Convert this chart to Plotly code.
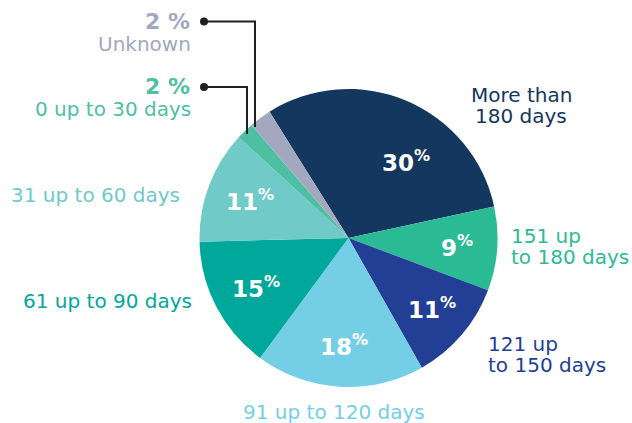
import math
import plotly.graph_objects as go

# ---------------- data ----------------
categories = ["More than 180 days", "151 up to 180 days", "121 up to 150 days",
              "91 up to 120 days", "61 up to 90 days", "31 up to 60 days",
              "0 up to 30 days", "Unknown"]
shares = [30.5, 9.1, 11.1, 18.3, 14.5, 12.2, 1.9, 2.4]          # slice sizes
pct_labels = ["30", "9", "11", "18", "15", "11", "2", "2"]      # printed percentages
slice_colors = ["#14375F", "#2BBB94", "#223F95", "#74CFE6",
                "#00A89B", "#6FCAC8", "#4DC0A4", "#A3A8BF"]

# ---------------- layout constants ----------------
W, H = 632, 423
CX, CY, R = 348.5, 238.0, 149.0
START = -32.0          # degrees clockwise from 12 o'clock
FONT = "DejaVu Sans"
LINE_COLOR = "#231F20"


def px(x, y):
    return x / W, 1 - y / H


fig = go.Figure(go.Pie(
    labels=categories, values=shares, sort=False, direction="clockwise",
    rotation=START, marker=dict(colors=slice_colors, line=dict(width=0)),
    textinfo="none", hoverinfo="label+percent", showlegend=False,
    domain=dict(x=[(CX - R) / W, (CX + R) / W],
                y=[(H - CY - R) / H, (H - CY + R) / H]),
))

annotations = []
shapes = []

# inside percentage labels, placed at each slice's mid-angle
nudge = {"More than 180 days": (13, 95)}   # (angle offset deg, radius px)
total = sum(shares)
acc = 0.0
mids = []
for cat, v in zip(categories, shares):
    a0 = START + 360 * acc / total
    acc += v
    a1 = START + 360 * acc / total
    mids.append((a0 + a1) / 2)

for cat, lab, mid in zip(categories, pct_labels, mids):
    if cat in ("0 up to 30 days", "Unknown"):
        continue
    da, rr = nudge.get(cat, (0, 107))
    ang = math.radians(mid + da)
    x = CX + rr * math.sin(ang)
    y = CY - rr * math.cos(ang)
    xp, yp = px(x + 2, y)
    annotations.append(dict(
        x=xp, y=yp, xref="paper", yref="paper", xanchor="center", yanchor="middle",
        showarrow=False,
        text=f"<b>{lab}<sup>%</sup></b>",
        font=dict(family=FONT, size=23, color="white")))

# outside category labels
color_of = dict(zip(categories, slice_colors))
outside = [
    ("More than", 521, 95, "center", "More than 180 days"),
    ("180 days", 521, 116, "center", "More than 180 days"),
    ("151 up", 510, 236, "left", "151 up to 180 days"),
    ("to 180 days", 510, 257, "left", "151 up to 180 days"),
    ("121 up", 487, 344, "left", "121 up to 150 days"),
    ("to 150 days", 487, 365, "left", "121 up to 150 days"),
    ("91 up to 120 days", 334, 412, "center", "91 up to 120 days"),
    ("61 up to 90 days", 193, 301, "right", "61 up to 90 days"),
    ("31 up to 60 days", 181, 195, "right", "31 up to 60 days"),
    ("Unknown", 192, 44, "right", "Unknown"),
    ("0 up to 30 days", 192, 109, "right", "0 up to 30 days"),
]
for txt, x, y, anc, cat in outside:
    xp, yp = px(x, y)
    annotations.append(dict(
        x=xp, y=yp, xref="paper", yref="paper", xanchor=anc, yanchor="middle",
        showarrow=False, text=txt, borderpad=0,
        font=dict(family=FONT, size=20, color=color_of[cat])))

# bold percentages for the two small slices + leader lines
small = [("Unknown", 21.5, 255), ("0 up to 30 days", 87, 247)]
for cat, y, lx in small:
    lab = pct_labels[categories.index(cat)]
    xp, yp = px(191, y)
    annotations.append(dict(
        x=xp, y=yp, xref="paper", yref="paper", xanchor="right", yanchor="middle",
        showarrow=False, text=f"<b>{lab} %</b>", borderpad=0,
        font=dict(family=FONT, size=22, color=color_of[cat])))
    # leader: dot -> horizontal -> vertical down into the slice
    yend = CY - math.sqrt(R ** 2 - (lx - CX) ** 2) + 5
    x0, y0 = px(204, y)
    x1, y1 = px(lx, y)
    x2, y2 = px(lx, yend)
    shapes.append(dict(type="path", xref="paper", yref="paper",
                       path=f"M {x0} {y0} L {x1} {y1} L {x2} {y2}",
                       line=dict(color=LINE_COLOR, width=2)))
    cx0, cy0 = px(200, y - 4)
    cx1, cy1 = px(208, y + 4)
    shapes.append(dict(type="circle", xref="paper", yref="paper",
                       x0=cx0, y0=cy1, x1=cx1, y1=cy0,
                       fillcolor=LINE_COLOR, line=dict(width=0)))

fig.update_layout(
    width=W, height=H, margin=dict(l=0, r=0, t=0, b=0),
    paper_bgcolor="white", plot_bgcolor="white",
    annotations=annotations, shapes=shapes,
)

fig.write_html("out.html", config={"displayModeBar": False},
               post_script="document.body.style.margin='0';")
